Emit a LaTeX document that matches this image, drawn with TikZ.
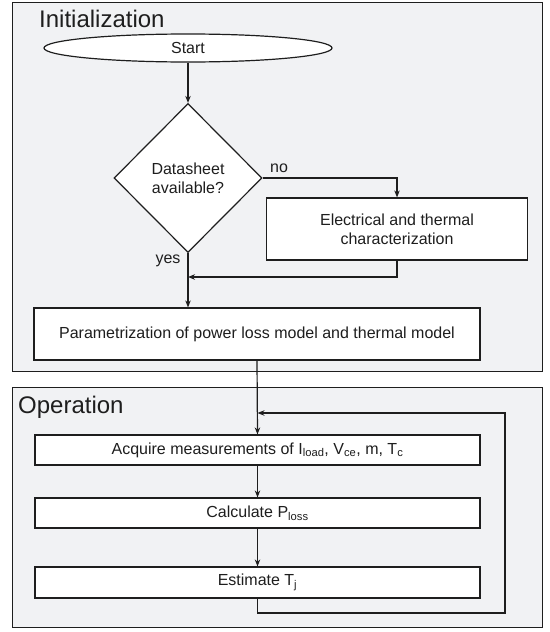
\documentclass[tikz,border=0pt]{standalone}
\usepackage{fontspec}
\setmainfont{Liberation Sans}
\usetikzlibrary{shapes.geometric,arrows.meta}
\definecolor{framefill}{HTML}{F1F2F4}
\definecolor{lineclr}{HTML}{1E1E1E}
\begin{document}
\begin{tikzpicture}[x=1pt,y=-1pt,
  frame/.style={draw=lineclr, fill=framefill, line width=1.2pt, inner sep=0},
  box/.style={draw=lineclr, fill=white, line width=1.2pt, font=\fontsize{16}{19}\selectfont, align=center, inner sep=0, text=lineclr},
  conn/.style={draw=lineclr, line width=1.2pt},
  arr/.style={conn, -{Stealth[length=7pt,width=5.5pt]}},
  title/.style={font=\fontsize{24}{28}\selectfont, anchor=base west, inner sep=0, text=lineclr},
  lbl/.style={font=\fontsize{16}{19}\selectfont, inner sep=0, text=lineclr}]
\useasboundingbox (0,0) rectangle (549,632);
% frames
\node[frame, minimum width=530, minimum height=369, anchor=north west] (init) at (12,2) {};
\node[frame, minimum width=530, minimum height=240, anchor=north west] (oper) at (12,387) {};
\node[title] (tinit) at (39,27) {Initialization};
\node[title] (toper) at (18,413) {Operation};
% nodes
\node[box, ellipse, minimum width=288, minimum height=28] (start) at (188,48) {Start};
\node[box, diamond, aspect=1, minimum width=148, minimum height=149] (dia) at (188,178) {Datasheet\\available?};
\node[box, minimum width=261, minimum height=62] (elec) at (397,229) {Electrical and thermal\\characterization};
\node[box, minimum width=446, minimum height=52] (param) at (257,334) {Parametrization of power loss model and thermal model};
\node[box, minimum width=445, minimum height=30] (acq) at (257.5,450) {Acquire measurements of I\textsubscript{load}, V\textsubscript{ce}, m, T\textsubscript{c}};
\node[box, minimum width=445, minimum height=30] (calc) at (257.5,513) {Calculate P\textsubscript{loss}};
\node[box, minimum width=445, minimum height=31] (est) at (257.5,582.5) {Estimate T\textsubscript{j}};
% labels
\node[lbl] (no) at (279,168) {no};
\node[lbl] (yes) at (168,261) {yes};
% connectors
\coordinate (j1) at (188,277);
\coordinate (c1) at (397,277);
\coordinate (c2) at (257.5,613);
\coordinate (c3) at (505,613);
\coordinate (c4) at (505,413);
\coordinate (j2) at (257.5,413);
\draw[arr] (start) -- (dia);
\draw[arr] (dia.east) -| (elec.north);
\draw[arr] (elec.south) -- (c1) -- (j1);
\draw[arr] (dia.south) -- (dia.south |- param.north);
\draw[arr] (param.south) -- (acq.north);
\draw[arr] (acq) -- (calc);
\draw[arr] (calc) -- (est);
\draw[arr] (est.south) -- (c2) -- (c3) -- (c4) -- (j2);
\end{tikzpicture}
\end{document}
